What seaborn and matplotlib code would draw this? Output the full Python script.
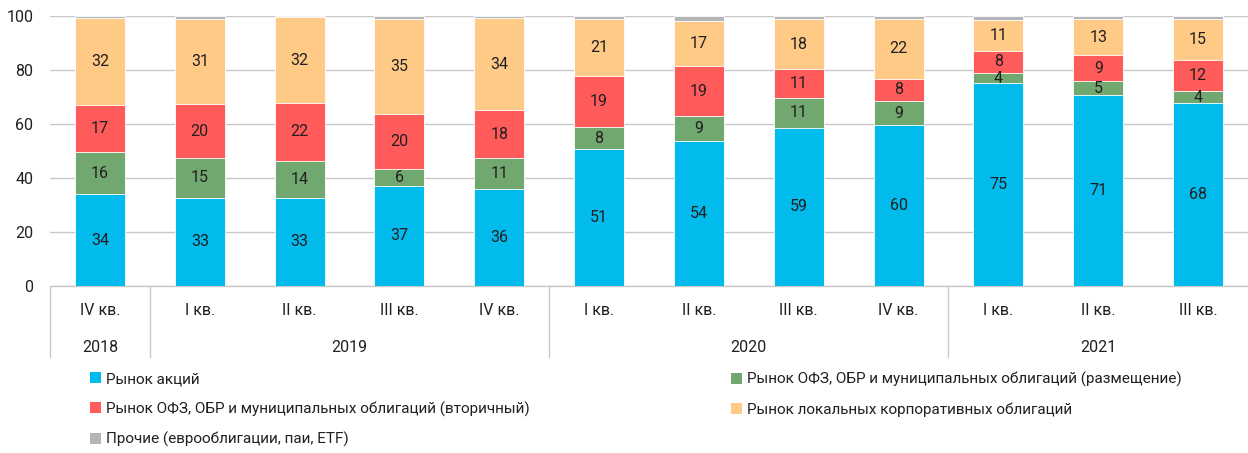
import matplotlib
matplotlib.use("Agg")
import matplotlib.pyplot as plt
import matplotlib.transforms as mtransforms
from matplotlib.patches import Patch
import seaborn as sns
import numpy as np
import pandas as pd

# data (shares, %)
quarters = ["IV кв.", "I кв.", "II кв.", "III кв.", "IV кв.",
            "I кв.", "II кв.", "III кв.", "IV кв.",
            "I кв.", "II кв.", "III кв."]
years = ["2018", "2019", "2019", "2019", "2019",
         "2020", "2020", "2020", "2020",
         "2021", "2021", "2021"]
stocks = [34.0, 32.7, 32.6, 37.2, 36.0, 50.6, 53.8, 58.6, 59.6, 75.1, 70.6, 67.8]
ofz_primary = [15.6, 14.6, 13.7, 6.0, 11.3, 8.4, 9.1, 11.2, 8.9, 3.7, 5.4, 4.3]
ofz_secondary = [17.4, 20.1, 21.6, 20.4, 17.9, 18.8, 18.6, 10.6, 8.3, 8.4, 9.4, 11.6]
corporate = [32.4, 31.4, 31.6, 35.4, 33.9, 21.0, 16.8, 18.4, 22.1, 11.4, 13.4, 15.1]
others = [100 - a - b - c - d for a, b, c, d in zip(stocks, ofz_primary, ofz_secondary, corporate)]

series_names = ["Рынок акций",
                "Рынок ОФЗ, ОБР и муниципальных облигаций (размещение)",
                "Рынок ОФЗ, ОБР и муниципальных облигаций (вторичный)",
                "Рынок локальных корпоративных облигаций",
                "Прочие (еврооблигации, паи, ETF)"]
series_vals = [stocks, ofz_primary, ofz_secondary, corporate, others]
colors = ["#00BBEC", "#70A86F", "#FF5B5B", "#FFC986", "#B4B5B8"]

sns.set_theme(style="white")
plt.rcParams["font.family"] = ["Roboto", "DejaVu Sans"]

period = [f"{y} {q}" for y, q in zip(years, quarters)]
df = pd.DataFrame({"period": period})
cum = np.zeros(len(period))
tops = []
for vals in series_vals:
    cum = cum + np.array(vals)
    tops.append(cum.copy())
for i, t in enumerate(tops):
    df[f"top{i}"] = t

fig = plt.figure(figsize=(12.48, 4.53), dpi=100)
ax = fig.add_axes([50 / 1248, 1 - 286 / 453, 1198 / 1248, 270 / 453])

# stacked bars: draw cumulative tops from the largest down
for i in range(len(series_vals) - 1, -1, -1):
    sns.barplot(data=df, x="period", y=f"top{i}", order=period, color=colors[i],
                width=0.5, saturation=1, ax=ax, edgecolor="white", linewidth=0.6,
                zorder=3)

# value labels
for i in range(4):
    bottoms = tops[i] - np.array(series_vals[i])
    for j, v in enumerate(series_vals[i]):
        ax.text(j, bottoms[j] + v / 2, f"{round(v)}", ha="center", va="center",
                fontsize=11.5, color="#231F20", zorder=5)

ax.set_ylim(0, 100)
ax.set_xlim(-0.5, len(period) - 0.5)
ax.set_yticks(range(0, 101, 20))
ax.yaxis.grid(True, color="#C8C8C8", linewidth=1)
ax.set_axisbelow(True)
ax.set_xlabel("")
ax.set_ylabel("")
ax.set_xticks([])
ax.tick_params(axis="y", labelsize=11.5, length=0, pad=12, labelcolor="#231F20")
for s in ["top", "right", "left"]:
    ax.spines[s].set_visible(False)
ax.spines["bottom"].set_color("#C8C8C8")
ax.spines["bottom"].set_linewidth(1)

# two-level category axis
trans = mtransforms.blended_transform_factory(ax.transData, ax.transAxes)
for j, q in enumerate(quarters):
    ax.text(j, -0.089, q, transform=trans, ha="center", va="center",
            fontsize=11.5, color="#231F20")
year_order = []
for y in years:
    if y not in year_order:
        year_order.append(y)
for y in year_order:
    idx = [j for j, yy in enumerate(years) if yy == y]
    ax.text(np.mean(idx), -0.226, y, transform=trans, ha="center", va="center",
            fontsize=11.5, color="#231F20")
    ax.plot([idx[0] - 0.5, idx[0] - 0.5], [0, -0.263], transform=trans,
            color="#C8C8C8", linewidth=1, clip_on=False)

# legend in two columns
handles = [Patch(facecolor=c, edgecolor="none") for c in colors]
leg_kw = dict(frameon=False, fontsize=11, handlelength=0.75, handleheight=0.75,
              handletextpad=0.3, labelspacing=1.0, borderaxespad=0, borderpad=0)
leg1 = fig.legend([handles[0], handles[2], handles[4]],
                  [series_names[0], series_names[2], series_names[4]],
                  loc="upper left", bbox_to_anchor=(90 / 1248, 1 - 372 / 453), **leg_kw)
for t in leg1.get_texts():
    t.set_color("#231F20")
leg2 = fig.legend([handles[1], handles[3]], [series_names[1], series_names[3]],
                  loc="upper left", bbox_to_anchor=(731 / 1248, 1 - 372 / 453), **leg_kw)
for t in leg2.get_texts():
    t.set_color("#231F20")

fig.savefig("out.png", dpi=100)
